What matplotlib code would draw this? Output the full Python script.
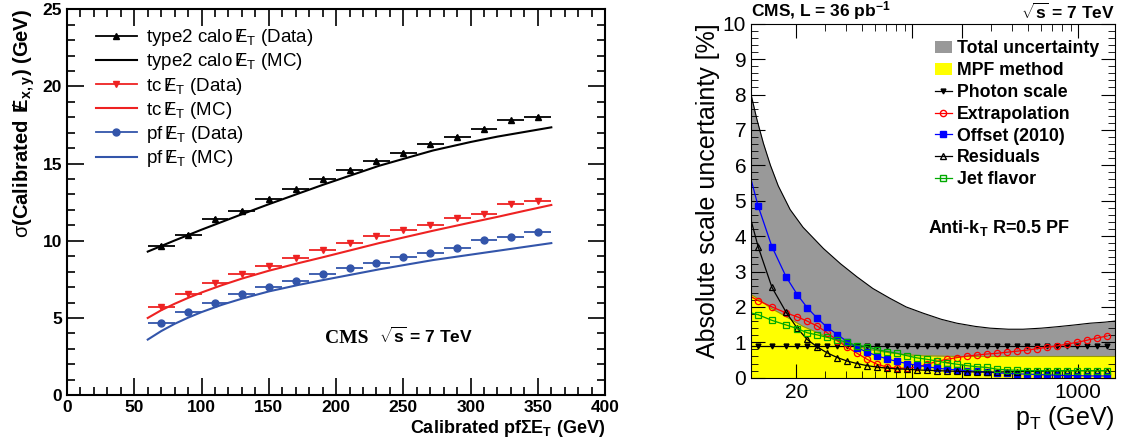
import numpy as np
import matplotlib.pyplot as plt
from matplotlib.ticker import MultipleLocator, FixedLocator, NullFormatter
from matplotlib.patches import Patch
from matplotlib.lines import Line2D

plt.rcParams['font.family'] = ['Liberation Sans', 'DejaVu Sans']
plt.rcParams['mathtext.fontset'] = 'custom'
plt.rcParams['mathtext.rm'] = 'Liberation Sans'
plt.rcParams['mathtext.it'] = 'Liberation Sans:italic'
plt.rcParams['mathtext.bf'] = 'Liberation Sans:bold'

# ---- left panel: MET resolution vs sum ET ----
sumet_bins = [70, 90, 110, 130, 150, 170, 190, 210, 230, 250, 270, 290, 310, 330, 350]
calo_data = [9.68, 10.39, 11.4, 11.95, 12.69, 13.33, 14.0, 14.58, 15.18, 15.7, 16.26, 16.73, 17.23, 17.8, 18.02]
tc_data = [5.72, 6.58, 7.27, 7.87, 8.39, 8.88, 9.42, 9.85, 10.3, 10.71, 11.0, 11.5, 11.74, 12.37, 12.58]
pf_data = [4.69, 5.37, 5.98, 6.52, 7.01, 7.37, 7.87, 8.23, 8.55, 8.94, 9.23, 9.52, 10.02, 10.24, 10.54]

mc_x = [60, 70, 80, 90, 100, 115, 130, 150, 172, 190, 232, 272, 300, 320, 340, 360]
calo_mc = [9.3, 9.66, 10.02, 10.37, 10.72, 11.22, 11.72, 12.37, 13.06, 13.62, 14.86, 15.85, 16.4, 16.75, 17.05, 17.35]
tc_mc = [5.0, 5.5, 5.92, 6.3, 6.65, 7.12, 7.55, 8.06, 8.55, 8.93, 9.85, 10.65, 11.18, 11.55, 11.94, 12.32]
pf_mc = [3.6, 4.15, 4.62, 5.02, 5.38, 5.85, 6.25, 6.72, 7.14, 7.45, 8.15, 8.75, 9.1, 9.35, 9.6, 9.85]

# ---- right panel: jet energy scale uncertainty ----
# first entry is the curve value at the left axis edge (no marker there)
pt = [10.7, 11.8, 14.3, 17.4, 20.3, 23.3, 26.8, 30.8, 35.4, 40.6, 46.6, 53.6, 61.5, 70.7, 81.2,
      93.3, 107, 123, 141, 162, 187, 214, 246, 283, 325, 373, 429, 493, 566, 650, 747,
      858, 986, 1133, 1301, 1495]
photon = [0.9] * len(pt)
extrap = [2.29, 2.18, 2.0, 1.83, 1.72, 1.6, 1.46, 1.27, 1.05, 0.86, 0.69, 0.52, 0.38, 0.3, 0.27,
          0.27, 0.3, 0.38, 0.46, 0.52, 0.57, 0.61, 0.64, 0.67, 0.69, 0.72, 0.75, 0.78, 0.82,
          0.86, 0.9, 0.95, 1.0, 1.06, 1.12, 1.18]
offset = [5.6, 4.85, 3.7, 2.85, 2.35, 1.98, 1.68, 1.42, 1.22, 1.02, 0.85, 0.72, 0.62, 0.53, 0.46,
          0.4, 0.35, 0.31, 0.27, 0.24, 0.22, 0.2, 0.18, 0.16, 0.14, 0.12, 0.11, 0.1, 0.09,
          0.08, 0.07, 0.06, 0.06, 0.05, 0.05, 0.05]
residuals = [4.45, 3.7, 2.55, 1.85, 1.4, 1.08, 0.87, 0.7, 0.57, 0.47, 0.4, 0.34, 0.3, 0.27, 0.25,
             0.24, 0.22, 0.21, 0.2, 0.19, 0.18, 0.17, 0.16, 0.16, 0.16, 0.17, 0.17, 0.18, 0.18,
             0.19, 0.19, 0.2, 0.2, 0.2, 0.2, 0.2]
flavor = [1.83, 1.78, 1.62, 1.49, 1.39, 1.27, 1.21, 1.14, 1.07, 1.0, 0.91, 0.88, 0.79, 0.74, 0.69,
          0.62, 0.56, 0.52, 0.47, 0.42, 0.38, 0.34, 0.31, 0.29, 0.24, 0.22, 0.21, 0.2, 0.2,
          0.2, 0.2, 0.2, 0.2, 0.2, 0.2, 0.2]

band_pt = [10.7, 11.6, 12.7, 14.0, 15.6, 18.4, 22, 29.2, 37, 46.5, 58, 73.7, 92, 117, 150,
           186, 240, 295, 380, 466, 600, 748, 950, 1180, 1450, 1670]
total = [8.0, 7.3, 6.62, 6.0, 5.42, 4.75, 4.25, 3.65, 3.22, 2.85, 2.52, 2.24, 2.0, 1.82, 1.65,
         1.54, 1.45, 1.4, 1.37, 1.37, 1.4, 1.44, 1.49, 1.54, 1.57, 1.6]
mpf = [2.35, 2.25, 2.12, 1.97, 1.85, 1.66, 1.45, 1.2, 1.0, 0.88, 0.78, 0.7, 0.65, 0.62,
       0.61, 0.6, 0.6, 0.6, 0.6, 0.6, 0.6, 0.6, 0.6, 0.6, 0.6, 0.6]

fig = plt.figure(figsize=(11.21, 4.41), dpi=100)

# ================= left =================
ax = fig.add_axes([0.0598, 0.104, 0.48, 0.875])
ax.plot(mc_x, calo_mc, color='black', lw=1.5)
ax.plot(mc_x, tc_mc, color='#ee2222', lw=1.5)
ax.plot(mc_x, pf_mc, color='#3355aa', lw=1.5)

err_kw = dict(ls='none', xerr=10, yerr=0.12, elinewidth=1.3, capsize=0)
ax.errorbar(sumet_bins, calo_data, marker='^', ms=5, color='black', **err_kw)
ax.errorbar(sumet_bins, tc_data, marker='v', ms=5, color='#ee2222', **err_kw)
ax.errorbar(sumet_bins, pf_data, marker='o', ms=5, color='#3355aa', **err_kw)

ax.set_xlim(0, 400)
ax.set_ylim(0, 25)
ax.xaxis.set_major_locator(MultipleLocator(50))
ax.xaxis.set_minor_locator(MultipleLocator(10))
ax.yaxis.set_major_locator(MultipleLocator(5))
ax.yaxis.set_minor_locator(MultipleLocator(1))
ax.tick_params(which='both', direction='in', top=True, right=True, width=1.2)
ax.tick_params(which='major', length=12)
ax.tick_params(which='minor', length=6)
for s in ax.spines.values():
    s.set_linewidth(1.5)
for lab in ax.get_xticklabels() + ax.get_yticklabels():
    lab.set_fontweight('bold')
    lab.set_fontsize(12.5)

met = r'$\,\,/\!\!\!\mathrm{E}_{\mathrm{T}}$'
ax.set_xlabel(r'Calibrated pf$\mathbf{\Sigma}\mathbf{E}_{\mathbf{T}}$ (GeV)', fontsize=13,
              fontweight='bold', loc='right', labelpad=2)
ax.set_ylabel(r'$\mathrm{\sigma}$(Calibrated $\,\,/\!\!\!\mathbf{E}_{\mathbf{x,y}}$) (GeV)',
              fontsize=14.5, fontweight='bold', loc='top', labelpad=4)

handles = [
    Line2D([], [], color='black', marker='^', ms=5, lw=1.3),
    Line2D([], [], color='black', lw=1.5),
    Line2D([], [], color='#ee2222', marker='v', ms=5, lw=1.3),
    Line2D([], [], color='#ee2222', lw=1.5),
    Line2D([], [], color='#3355aa', marker='o', ms=5, lw=1.3),
    Line2D([], [], color='#3355aa', lw=1.5),
]
labels = ['type2 calo' + met + ' (Data)', 'type2 calo' + met + ' (MC)',
          'tc' + met + ' (Data)', 'tc' + met + ' (MC)',
          'pf' + met + ' (Data)', 'pf' + met + ' (MC)']
ax.legend(handles, labels, loc='upper left', bbox_to_anchor=(0.022, 0.997), frameon=False,
          fontsize=13.5, handlelength=2.2, labelspacing=0.17, handletextpad=0.5)

ax.text(192, 3.4, 'CMS', family='Liberation Serif', fontweight='bold', fontsize=14)
ax.text(232, 3.4, r'$\sqrt{\mathbf{s}}$ = 7 TeV', fontweight='bold', fontsize=12.5)

# ================= right =================
ax2 = fig.add_axes([0.67, 0.1435, 0.3247, 0.8027])
ax2.fill_between(band_pt, 0, total, color='#999999', lw=0)
ax2.plot(band_pt, total, color='black', lw=0.8)
ax2.fill_between(band_pt, 0, mpf, color='#ffff00', lw=0)
ax2.plot(band_pt, mpf, color='#999900', lw=0.8)

mk = slice(1, None)
ax2.plot(pt, photon, color='black', marker='v', ms=3.5, lw=0.9, markevery=mk)
ax2.plot(pt, extrap, color='red', marker='o', ms=4.5, mfc='none', mew=0.9, lw=0.9, markevery=mk)
ax2.plot(pt, offset, color='blue', marker='s', ms=4, lw=0.9, markevery=mk)
ax2.plot(pt, residuals, color='black', marker='^', ms=4.5, mfc='none', mew=0.9, lw=0.9, markevery=mk)
ax2.plot(pt, flavor, color='#00aa00', marker='s', ms=4.5, mfc='none', mew=0.9, lw=0.9, markevery=mk)

ax2.set_xscale('log')
ax2.set_xlim(10.7, 1670)
ax2.set_ylim(0, 10)
ax2.xaxis.set_major_locator(FixedLocator([20, 100, 200, 1000]))
ax2.xaxis.set_major_formatter(plt.FixedFormatter(['20', '100', '200', '1000']))
ax2.xaxis.set_minor_formatter(NullFormatter())
ax2.yaxis.set_major_locator(MultipleLocator(1))
ax2.yaxis.set_minor_locator(MultipleLocator(0.2))
ax2.tick_params(which='both', direction='in', top=True, right=True, labelsize=15)
ax2.tick_params(which='major', length=10)
ax2.tick_params(which='minor', length=5)
ax2.set_xlabel(r'p$_\mathrm{T}$ (GeV)', fontsize=18, loc='right', labelpad=2)
ax2.set_ylabel('Absolute scale uncertainty [%]', fontsize=18, loc='top', labelpad=2)

h2 = [Patch(facecolor='#999999', edgecolor='none'),
      Patch(facecolor='#ffff00', edgecolor='none'),
      Line2D([], [], color='black', marker='v', ms=3.5, lw=0.9),
      Line2D([], [], color='red', marker='o', ms=4.5, mfc='none', lw=0.9),
      Line2D([], [], color='blue', marker='s', ms=4, lw=0.9),
      Line2D([], [], color='black', marker='^', ms=4.5, mfc='none', lw=0.9),
      Line2D([], [], color='#00aa00', marker='s', ms=4.5, mfc='none', lw=0.9)]
l2 = ['Total uncertainty', 'MPF method', 'Photon scale', 'Extrapolation', 'Offset (2010)',
      'Residuals', 'Jet flavor']
leg2 = ax2.legend(h2, l2, loc='upper right', bbox_to_anchor=(1.0, 0.998), frameon=False,
                  prop={'weight': 'bold', 'size': 12.8}, handlelength=1.0,
                  handletextpad=0.25, labelspacing=0.27)

ax2.text(125, 4.1, r'Anti-k$_\mathbf{T}$ R=0.5 PF', fontweight='bold', fontsize=13)
ax2.text(0.0, 1.004, r'CMS, L = 36 pb$^{\mathbf{-1}}$', transform=ax2.transAxes,
         fontweight='bold', fontsize=12.5, ha='left', va='bottom')
ax2.text(1.0, 1.004, r'$\sqrt{\mathbf{s}}$ = 7 TeV', transform=ax2.transAxes,
         fontweight='bold', fontsize=12.5, ha='right', va='bottom')

plt.savefig('out.png', dpi=100)
